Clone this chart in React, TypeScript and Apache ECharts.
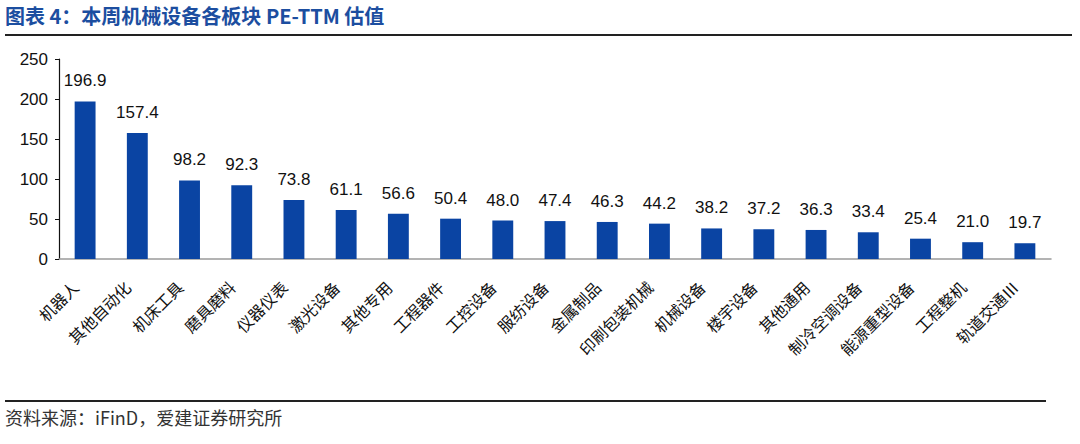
import React, { useEffect, useRef } from "react";
import * as echarts from "echarts";

const categories = ["机器人", "其他自动化", "机床工具", "磨具磨料", "仪器仪表", "激光设备", "其他专用", "工程器件", "工控设备", "服纺设备", "金属制品", "印刷包装机械", "机械设备", "楼宇设备", "其他通用", "制冷空调设备", "能源重型设备", "工程整机", "轨道交通Ⅲ"];
const peValues = [196.9, 157.4, 98.2, 92.3, 73.8, 61.1, 56.6, 50.4, 48.0, 47.4, 46.3, 44.2, 38.2, 37.2, 36.3, 33.4, 25.4, 21.0, 19.7];
const yTicks = { min: 0, max: 250, interval: 50 };
const titleText = "图表 4：本周机械设备各板块 PE-TTM 估值";
const sourceText = "资料来源：iFinD，爱建证券研究所";

export default function App() {
  const ref = useRef<HTMLDivElement>(null);
  useEffect(() => {
    if (!ref.current) return;
    const chart = echarts.init(ref.current, null, { renderer: "svg" });
    chart.setOption({
      animation: false,
      backgroundColor: "#ffffff",
      grid: { left: 59, right: 29, top: 59, bottom: 185 },
      xAxis: {
        type: "category",
        data: categories,
        axisLine: { lineStyle: { color: "#9a9a9a", width: 1.5 } },
        axisTick: { show: false },
        axisLabel: {
          rotate: 45,
          interval: 0,
          margin: 15,
          padding: [0, 14, 0, 0],
          color: "#111",
          fontSize: 16,
          fontFamily: "Noto Sans CJK SC",
        },
      },
      yAxis: {
        type: "value",
        min: yTicks.min,
        max: yTicks.max,
        interval: yTicks.interval,
        splitLine: { show: false },
        axisLine: { show: true, lineStyle: { color: "#111", width: 1.2 } },
        axisTick: { show: true, length: 4, lineStyle: { color: "#111" } },
        axisLabel: {
          color: "#111",
          fontSize: 17,
          margin: 11,
          fontFamily: "Liberation Sans, Arial",
        },
      },
      series: [
        {
          type: "bar",
          data: peValues,
          barWidth: "40%",
          itemStyle: { color: "#0a44a3" },
          label: {
            show: true,
            position: "top",
            distance: 12,
            color: "#111",
            fontSize: 17,
            fontFamily: "Liberation Sans, Arial",
            formatter: (p: any) => Number(p.value).toFixed(1),
          },
        },
      ],
      graphic: [
        {
          type: "text",
          left: 5,
          top: 5,
          style: {
            text: titleText,
            fill: "#1c4ea0",
            fontSize: 20,
            fontWeight: "bold",
            fontFamily: "Noto Sans CJK SC",
          },
        },
        {
          type: "line",
          shape: { x1: 5, y1: 35, x2: 1072, y2: 35 },
          style: { stroke: "#222", lineWidth: 2 },
        },
        {
          type: "line",
          shape: { x1: 5, y1: 401, x2: 1046, y2: 401 },
          style: { stroke: "#222", lineWidth: 2 },
        },
        {
          type: "text",
          left: 5,
          top: 408,
          style: {
            text: sourceText,
            fill: "#333",
            fontSize: 18,
            fontFamily: "Noto Sans CJK SC",
          },
        },
      ],
    });
    return () => chart.dispose();
  }, []);
  return (
    <div
      ref={ref}
      style={{ position: "fixed", left: 0, top: 0, width: 1080, height: 444 }}
    />
  );
}
